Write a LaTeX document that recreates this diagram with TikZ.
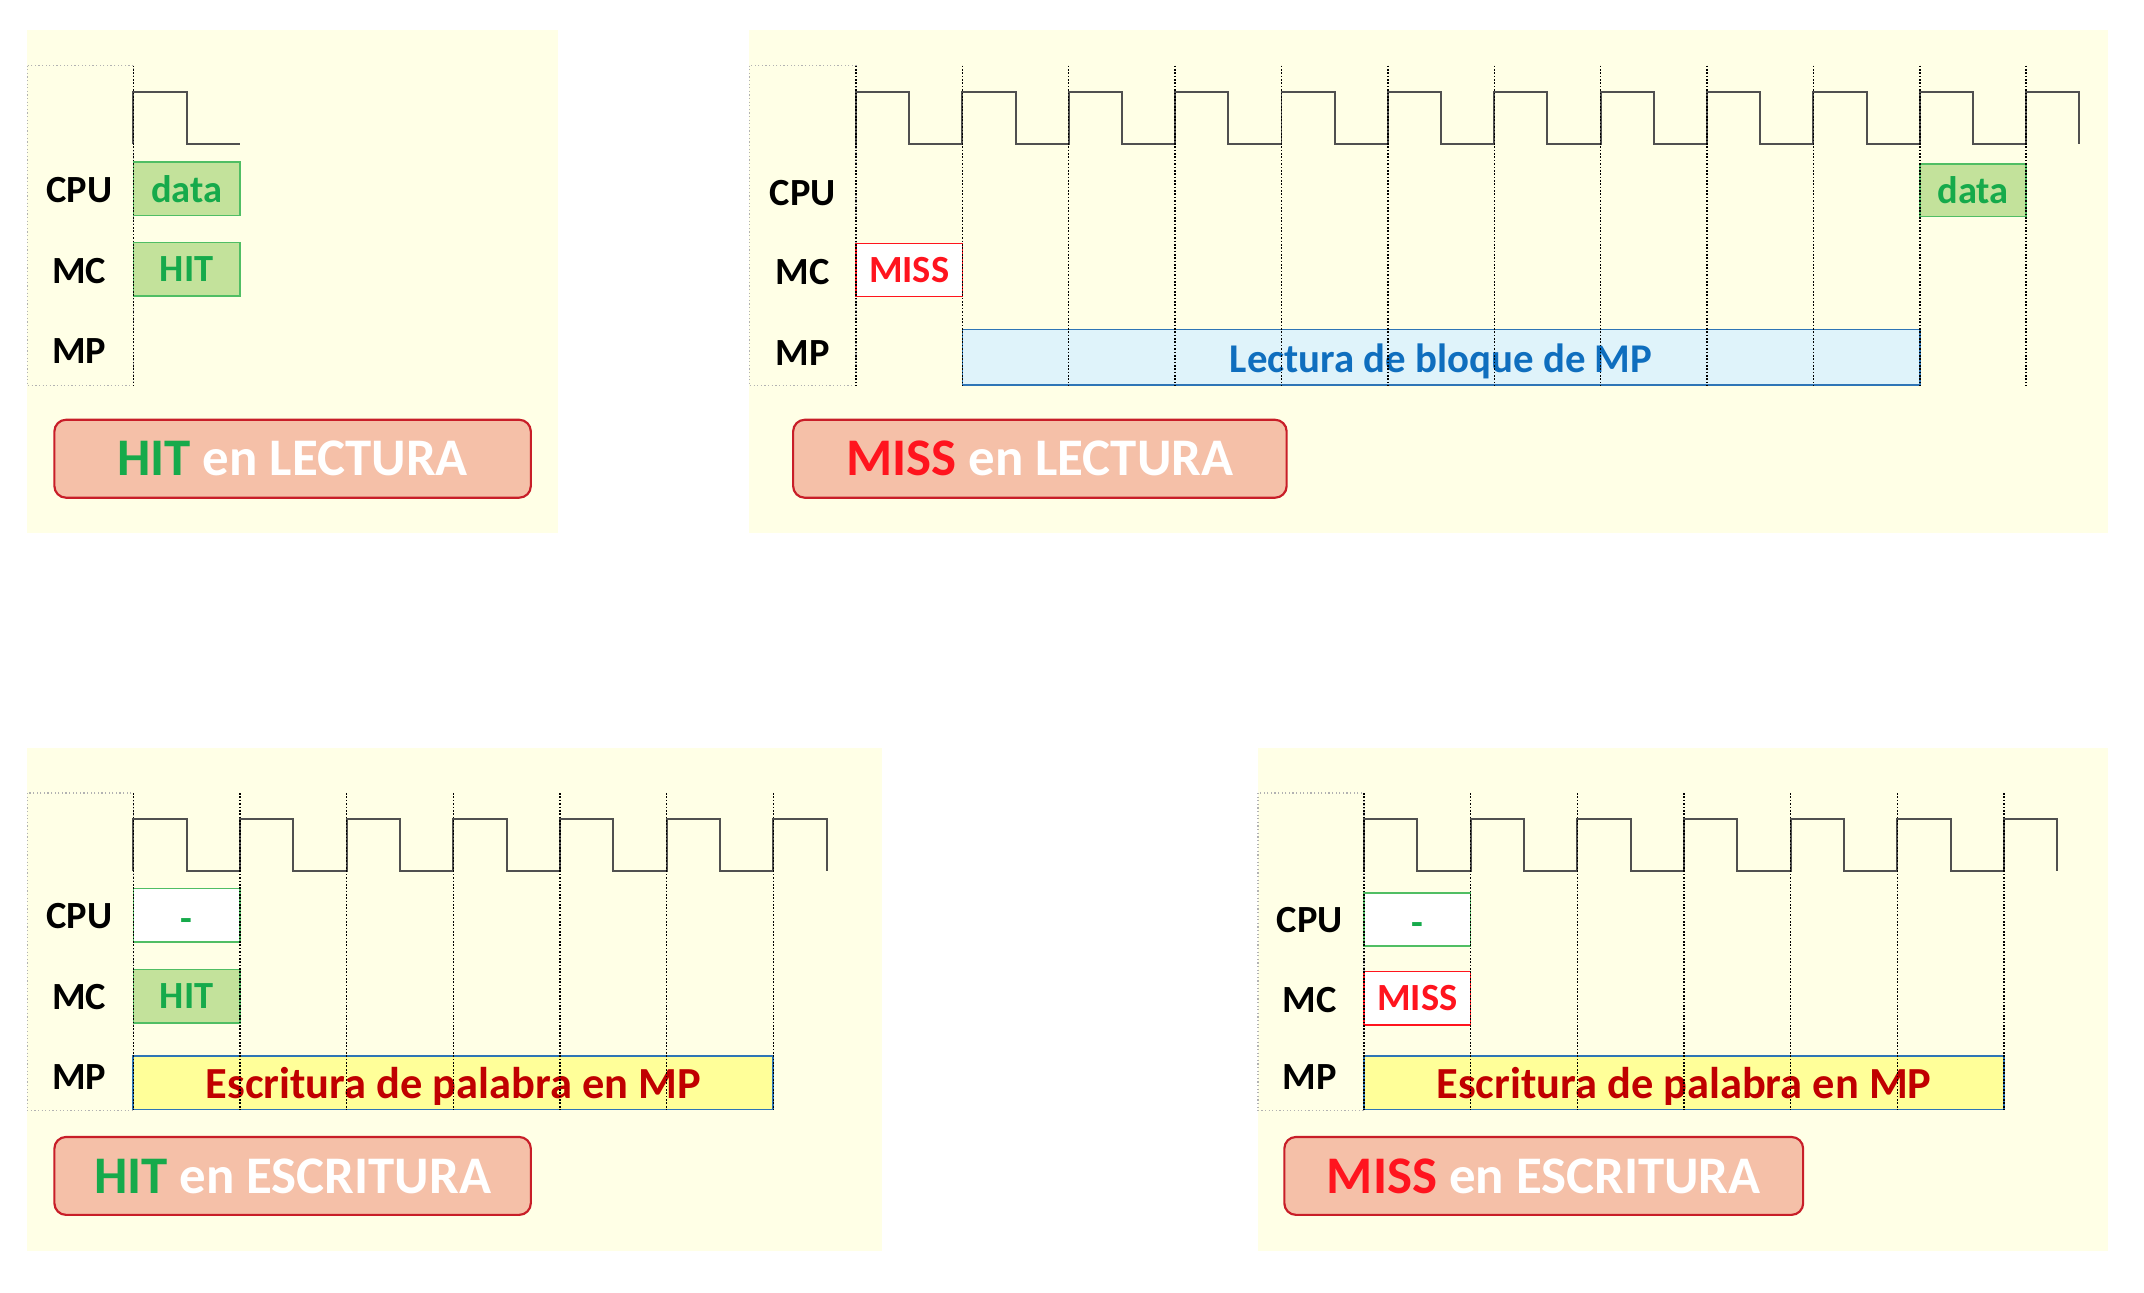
\documentclass[tikz,border=0pt]{standalone}
\usepackage{fontspec}
\setmainfont{Carlito}
\usetikzlibrary{positioning}
\definecolor{panelyellow}{RGB}{255,255,230}
\definecolor{clockgray}{RGB}{80,80,80}
\definecolor{hitfill}{RGB}{195,226,155}
\definecolor{hitline}{RGB}{80,190,100}
\definecolor{hittext}{RGB}{22,170,75}
\definecolor{missred}{RGB}{255,20,30}
\definecolor{mpblue}{RGB}{46,117,182}
\definecolor{mpbluefill}{RGB}{223,243,250}
\definecolor{mpbluetext}{RGB}{15,110,190}
\definecolor{mpyellow}{RGB}{255,255,153}
\definecolor{mpred}{RGB}{192,0,0}
\definecolor{titlefill}{RGB}{245,192,168}
\definecolor{titleline}{RGB}{200,30,40}
\tikzset{
  lane/.style={font=\fontsize{16}{18}\selectfont\bfseries},
  clockline/.style={draw=clockgray,line width=0.8pt},
  cyclemark/.style={draw=black,dash pattern=on 0.7pt off 0.7pt,line width=0.6pt},
  laneframe/.style={draw=black!30,densely dotted,line width=0.5pt},
  hitcell/.style={draw=hitline,fill=hitfill,line width=0.6pt},
  idlecell/.style={draw=hitline,fill=white,line width=0.6pt},
  misscell/.style={draw=missred,fill=white,line width=0.6pt},
  readcell/.style={draw=mpblue,fill=mpbluefill,line width=0.7pt},
  writecell/.style={draw=mpblue,fill=mpyellow,line width=0.7pt},
  greentext/.style={lane,text=hittext},
  idletext/.style={lane,text=hittext,yshift=-4pt},
  redtext/.style={lane,text=missred},
  bluetext/.style={font=\fontsize{17}{20}\selectfont\bfseries,text=mpbluetext,yshift=-1.6pt},
  darkredtext/.style={font=\fontsize{18.5}{22}\selectfont\bfseries,text=mpred,yshift=-1.6pt},
  titlebox/.style={draw=titleline,fill=titlefill,line width=0.9pt,rounded corners=0.17cm,
    text=white,font=\fontsize{22}{26}\selectfont\bfseries,minimum height=1.14cm,inner sep=0pt},
}
\newcommand{\panelbg}[4]{\fill[panelyellow] (#1,#2) rectangle (#3,#4);}
\newcommand{\clockrun}[4]{\draw[clockline] (#1,#2) \foreach \k in {1,...,#3}{ -- ++(0,-38) -- ++(#4/2,0) -- ++(0,38) -- ++(#4/2,0)};}
\newcommand{\clocktail}[3]{\draw[clockline] (#1,#2) -- ++(0,-38) -- ++(#3/2,0) -- ++(0,38);}
\newcommand{\cyclemarks}[5]{\foreach \k in {0,...,#2} \draw[cyclemark] (#1+#5*\k,#3) -- (#1+#5*\k,#4);}
\newcommand{\slot}[8]{\draw[#1] (#4,#5) rectangle (#6,#7) node[midway,#2] (#3) {#8};}

\begin{document}
\begin{tikzpicture}[x=0.02cm,y=-0.02cm]
  \useasboundingbox (0,0) rectangle (1568,945);
  % HIT en LECTURA
  \panelbg{20}{22}{408}{390}
  \draw[laneframe] (20,48) rectangle (97.5,282);
  \node[lane] (hrcpu) at (58,139) {CPU};
  \node[lane] (hrmc) at (58,198) {MC};
  \node[lane] (hrmp) at (58,257) {MP};
  \clockrun{97.5}{105.5}{1}{78}
  \slot{hitcell}{greentext}{hrdata}{97.5}{118.5}{175.5}{157.5}{data}
  \slot{hitcell}{greentext}{hrhit}{97.5}{177.5}{175.5}{216.5}{HIT}
  \cyclemarks{97.5}{0}{48}{282}{78}
  \node[titlebox,minimum width=6.97cm] (hrtitle) at (214,335.5) {\textcolor{hittext}{HIT} en LECTURA};
  % MISS en LECTURA
  \panelbg{548}{22}{1542}{390}
  \draw[laneframe] (548,48) rectangle (626,282);
  \node[lane] (mrcpu) at (587,141) {CPU};
  \node[lane] (mrmc) at (587,199) {MC};
  \node[lane] (mrmp) at (587,258) {MP};
  \clockrun{626}{105.5}{11}{77.8}
  \clocktail{1481.8}{105.5}{77.8}
  \slot{misscell}{redtext}{mrmiss}{626}{178}{703.8}{217}{MISS}
  \slot{readcell}{bluetext}{mrblock}{703.8}{241}{1404}{281.5}{Lectura de bloque de MP}
  \slot{hitcell}{greentext}{mrdata}{1404}{120}{1481.8}{158.5}{data}
  \cyclemarks{626}{11}{48}{282}{77.8}
  \node[titlebox,minimum width=7.22cm] (mrtitle) at (760.5,335.5) {\textcolor{missred}{MISS} en LECTURA};
  % HIT en ESCRITURA
  \panelbg{20}{547}{645}{915}
  \draw[laneframe] (20,580) rectangle (97.5,812);
  \node[lane] (hwcpu) at (58,670) {CPU};
  \node[lane] (hwmc) at (58,729) {MC};
  \node[lane] (hwmp) at (58,788) {MP};
  \clockrun{97.5}{637}{6}{78}
  \clocktail{565.5}{637}{78}
  \slot{idlecell}{idletext}{hwidle}{97.5}{650}{175.5}{689}{-}
  \slot{hitcell}{greentext}{hwhit}{97.5}{709}{175.5}{748}{HIT}
  \slot{writecell}{darkredtext}{hwword}{97.5}{772.5}{565.5}{811.5}{Escritura de palabra en MP}
  \cyclemarks{97.5}{6}{580}{812}{78}
  \node[titlebox,minimum width=6.97cm] (hwtitle) at (214,860) {\textcolor{hittext}{HIT} en ESCRITURA};
  % MISS en ESCRITURA
  \panelbg{920}{547}{1542}{915}
  \draw[laneframe] (920,580) rectangle (997.5,812);
  \node[lane] (mwcpu) at (958,673) {CPU};
  \node[lane] (mwmc) at (958,731) {MC};
  \node[lane] (mwmp) at (958,788) {MP};
  \clockrun{997.5}{637}{6}{78}
  \clocktail{1465.5}{637}{78}
  \slot{idlecell}{idletext}{mwidle}{997.5}{653}{1075.5}{692}{-}
  \slot{misscell}{redtext}{mwmiss}{997.5}{710.5}{1075.5}{749.5}{MISS}
  \slot{writecell}{darkredtext}{mwword}{997.5}{772.5}{1465.5}{811.5}{Escritura de palabra en MP}
  \cyclemarks{997.5}{6}{580}{812}{78}
  \node[titlebox,minimum width=7.59cm] (mwtitle) at (1129,860) {\textcolor{missred}{MISS} en ESCRITURA};
\end{tikzpicture}
\end{document}
